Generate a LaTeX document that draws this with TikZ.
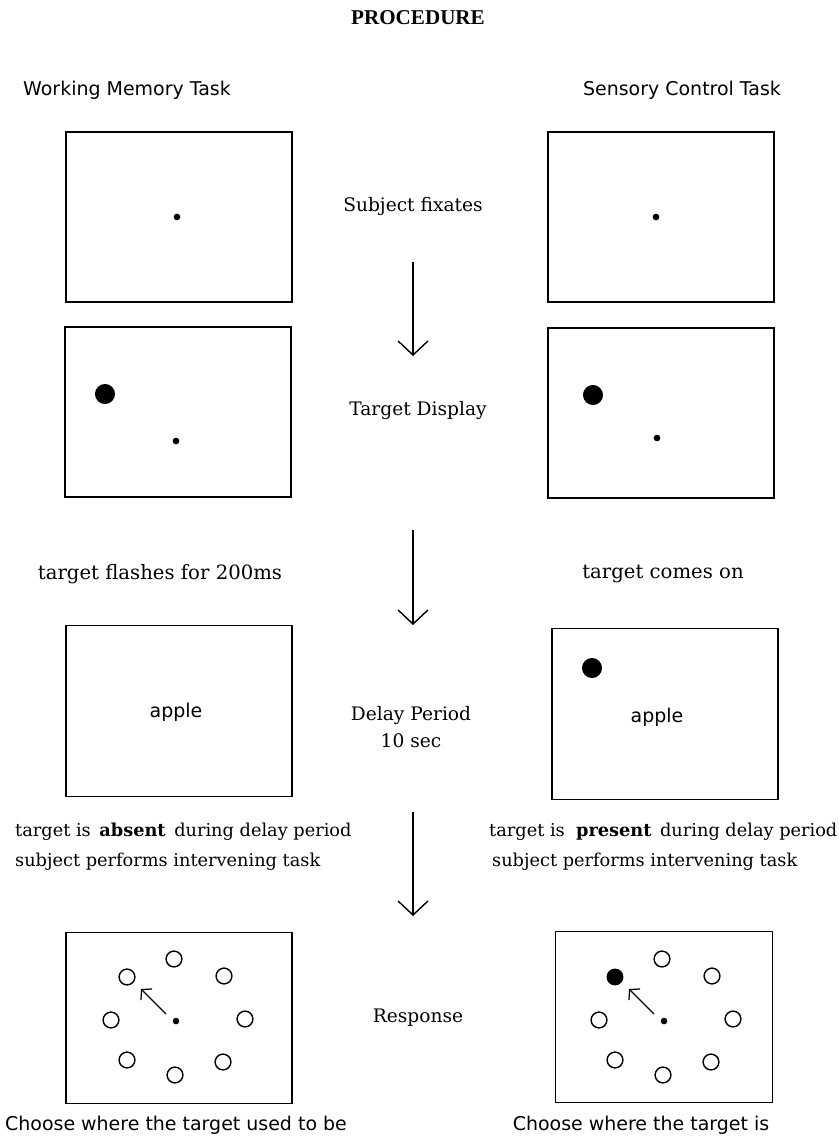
\documentclass[tikz,border=0pt]{standalone}
\usepackage{fontspec}
\setmainfont{DejaVu Serif}
\setsansfont{DejaVu Sans}
\newfontfamily\titlefont{Liberation Serif}
\usetikzlibrary{arrows.meta,positioning}

\begin{document}
\begin{tikzpicture}[x=0.02cm,y=-0.02cm,>={Straight Barb[length=8pt,width=17pt]},
    screen/.style={draw,line width=0.9pt,minimum width=4.52cm,minimum height=3.4cm,inner sep=0pt},
    stage/.style={font=\fontsize{10.6}{15}\selectfont},
    note/.style={font=\fontsize{11.2}{17}\selectfont},
    delaynote/.style={font=\fontsize{10.1}{17}\selectfont},
    mac/.style={font=\sffamily\fontsize{10.8}{13}\selectfont},
    probe/.style={line width=0.8pt}]
    \useasboundingbox (0,0) rectangle (838,1142);

    \node[font=\titlefont\bfseries\fontsize{12}{13}\selectfont] (title) at (418,18) {PROCEDURE};
    \node[mac] (wm) at (127,90) {Working Memory Task};
    \node[mac] (sc) at (682,90) {Sensory Control Task};

    % screens, left = working memory, right = sensory control
    \node[screen] (wm1) at (179,217) {};
    \node[screen] (sc1) at (661,217) {};
    \node[screen] (wm2) at (178,412) {};
    \node[screen] (sc2) at (661,413) {};
    \node[screen, minimum height=3.42cm] (wm3) at (179,711) {};
    \node[screen, minimum height=3.42cm] (sc3) at (665,714) {};
    \node[screen, minimum height=3.42cm] (wm4) at (179,1018) {};
    \node[screen, minimum height=3.42cm, minimum width=4.34cm] (sc4) at (664,1017) {};

    % fixation points and targets
    \fill (177,217) circle (1.9pt);
    \fill (656,217) circle (1.9pt);
    \fill (176,441) circle (1.9pt);
    \fill (105,394) circle (5.7pt);
    \fill (657,438) circle (1.9pt);
    \fill (593,395) circle (5.7pt);
    \fill (592,668) circle (5.7pt);
    \node[mac] (apple1) at (176,712) {apple};
    \node[mac] (apple2) at (657,717) {apple};

    % response screens
    \foreach \cx in {176,664} {
      \begin{scope}[shift={(\cx,1021)}]
        \fill (0,0) circle (1.9pt);
        \foreach \px/\py in {-2/-62,48/-45,-65/-1,69/-2,-49/39,-1/54,47/41}
          \draw[probe] (\px,\py) circle (4.5pt);
        \coordinate (from) at (-10,-7);
        \coordinate (to) at (-35,-32);
        \draw[-{Straight Barb[length=4pt,width=9pt]}, line width=0.7pt] (from) -- (to);
      \end{scope}
    }
    \draw[probe] (127,977) circle (4.5pt);
    \fill (615,977) circle (4.8pt);

    % stages in the middle
    \node[stage] (fix) at (413,206) {Subject fixates};
    \node[stage] (disp) at (418,410) {Target Display};
    \node[stage, align=center] (delay) at (411,727) {Delay Period\\10 sec};
    \node[stage] (resp) at (418,1018) {Response};

    \coordinate (s1) at (413,262);
    \coordinate (e1) at (413,356);
    \coordinate (s2) at (413,530);
    \coordinate (e2) at (413,625);
    \coordinate (s3) at (413,812);
    \coordinate (e3) at (413,916);
    \foreach \i in {1,2,3}
      \draw[->, line width=0.8pt] (s\i) -- (e\i);

    % captions
    \node[note] (cap1) at (160,574) {target flashes for 200ms};
    \node[note] (cap2) at (663,574) {target comes on};
    \node[delaynote, anchor=west, align=left] (cap3) at (9,847)
      {target is\ \,\textbf{absent}\ \,during delay period\\subject performs intervening task};
    \node[delaynote, anchor=west, align=left] (cap4) at (483,847)
      {target is\ \ \textbf{present}\ \,during delay period\\\,subject performs intervening task};
    \node[mac] (ch1) at (176,1125) {Choose where the target used to be};
    \node[mac] (ch2) at (641,1125) {Choose where the target is};
\end{tikzpicture}
\end{document}
